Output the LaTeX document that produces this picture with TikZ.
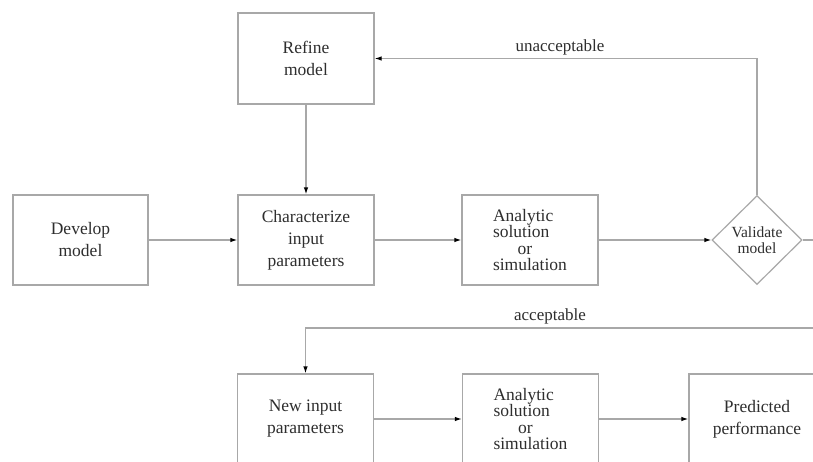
\documentclass[tikz,border=0pt]{standalone}
\usepackage{fontspec}
\setmainfont{Liberation Serif}
\usetikzlibrary{shapes.geometric,arrows.meta}
\definecolor{linegray}{HTML}{A8A8A8}
\definecolor{textgray}{HTML}{2E2E2E}
\tikzset{
  box/.style={draw=linegray, line width=1.2pt, minimum width=136pt, minimum height=90pt,
    inner sep=0pt, align=center, text=textgray, font=\fontsize{17.5}{22}\selectfont},
  dia/.style={draw=linegray, line width=1.2pt, diamond, minimum width=90pt, minimum height=89pt,
    inner sep=0pt, align=center, text=textgray, font=\fontsize{15.5}{16}\selectfont},
  conn/.style={draw=linegray, line width=1.2pt},
  arr/.style={conn, -{Latex[length=7pt,width=4.5pt,color=black]}},
  lbl/.style={text=textgray, font=\fontsize{17}{20}\selectfont, inner sep=0pt},
  tight/.style={font=\fontsize{17.5}{16.5}\selectfont, align=left}
}
\begin{document}
\begin{tikzpicture}[x=1pt,y=-1pt]
\useasboundingbox (0,0) rectangle (813,461);
\clip (0,0) rectangle (813,461);
\fill[white] (0,0) rectangle (813,461);
\node[box, minimum height=91pt] (refine) at (306,58.5) {Refine\\model};
\node[box, minimum width=135pt] (develop) at (80.5,240) {Develop\\model};
\node[box] (char) at (306,240) {Characterize\\input\\parameters};
\node[box, tight] (anal1) at (530,240) {Analytic\\solution\\\hspace*{1.4em}or\\simulation};
\node[dia] (valid) at (757,240) {Validate\\model};
\coordinate (outR) at (813,240);
\coordinate (accR) at (813,328);
\node[box] (newinp) at (305.5,419) {New input\\parameters};
\node[box, tight] (anal2) at (530.5,419) {Analytic\\solution\\\hspace*{1.4em}or\\simulation};
\node[box] (pred) at (757,419) {Predicted\\performance};
\node[lbl] (unacc) at (560,47) {unacceptable};
\node[lbl] (acc) at (550,316) {acceptable};
\draw[arr] (develop.east) -- (char.west);
\draw[arr] (char.east) -- (anal1.west);
\draw[arr] (anal1.east) -- (valid.west);
\draw[conn] (valid.east) -- (outR);
\draw[arr] (valid.north) |- (refine.east);
\draw[arr] (refine.south) -- (char.north);
\draw[arr] (accR) -| (newinp.north);
\draw[arr] (newinp.east) -- (anal2.west);
\draw[arr] (anal2.east) -- (pred.west);
\end{tikzpicture}
\end{document}
